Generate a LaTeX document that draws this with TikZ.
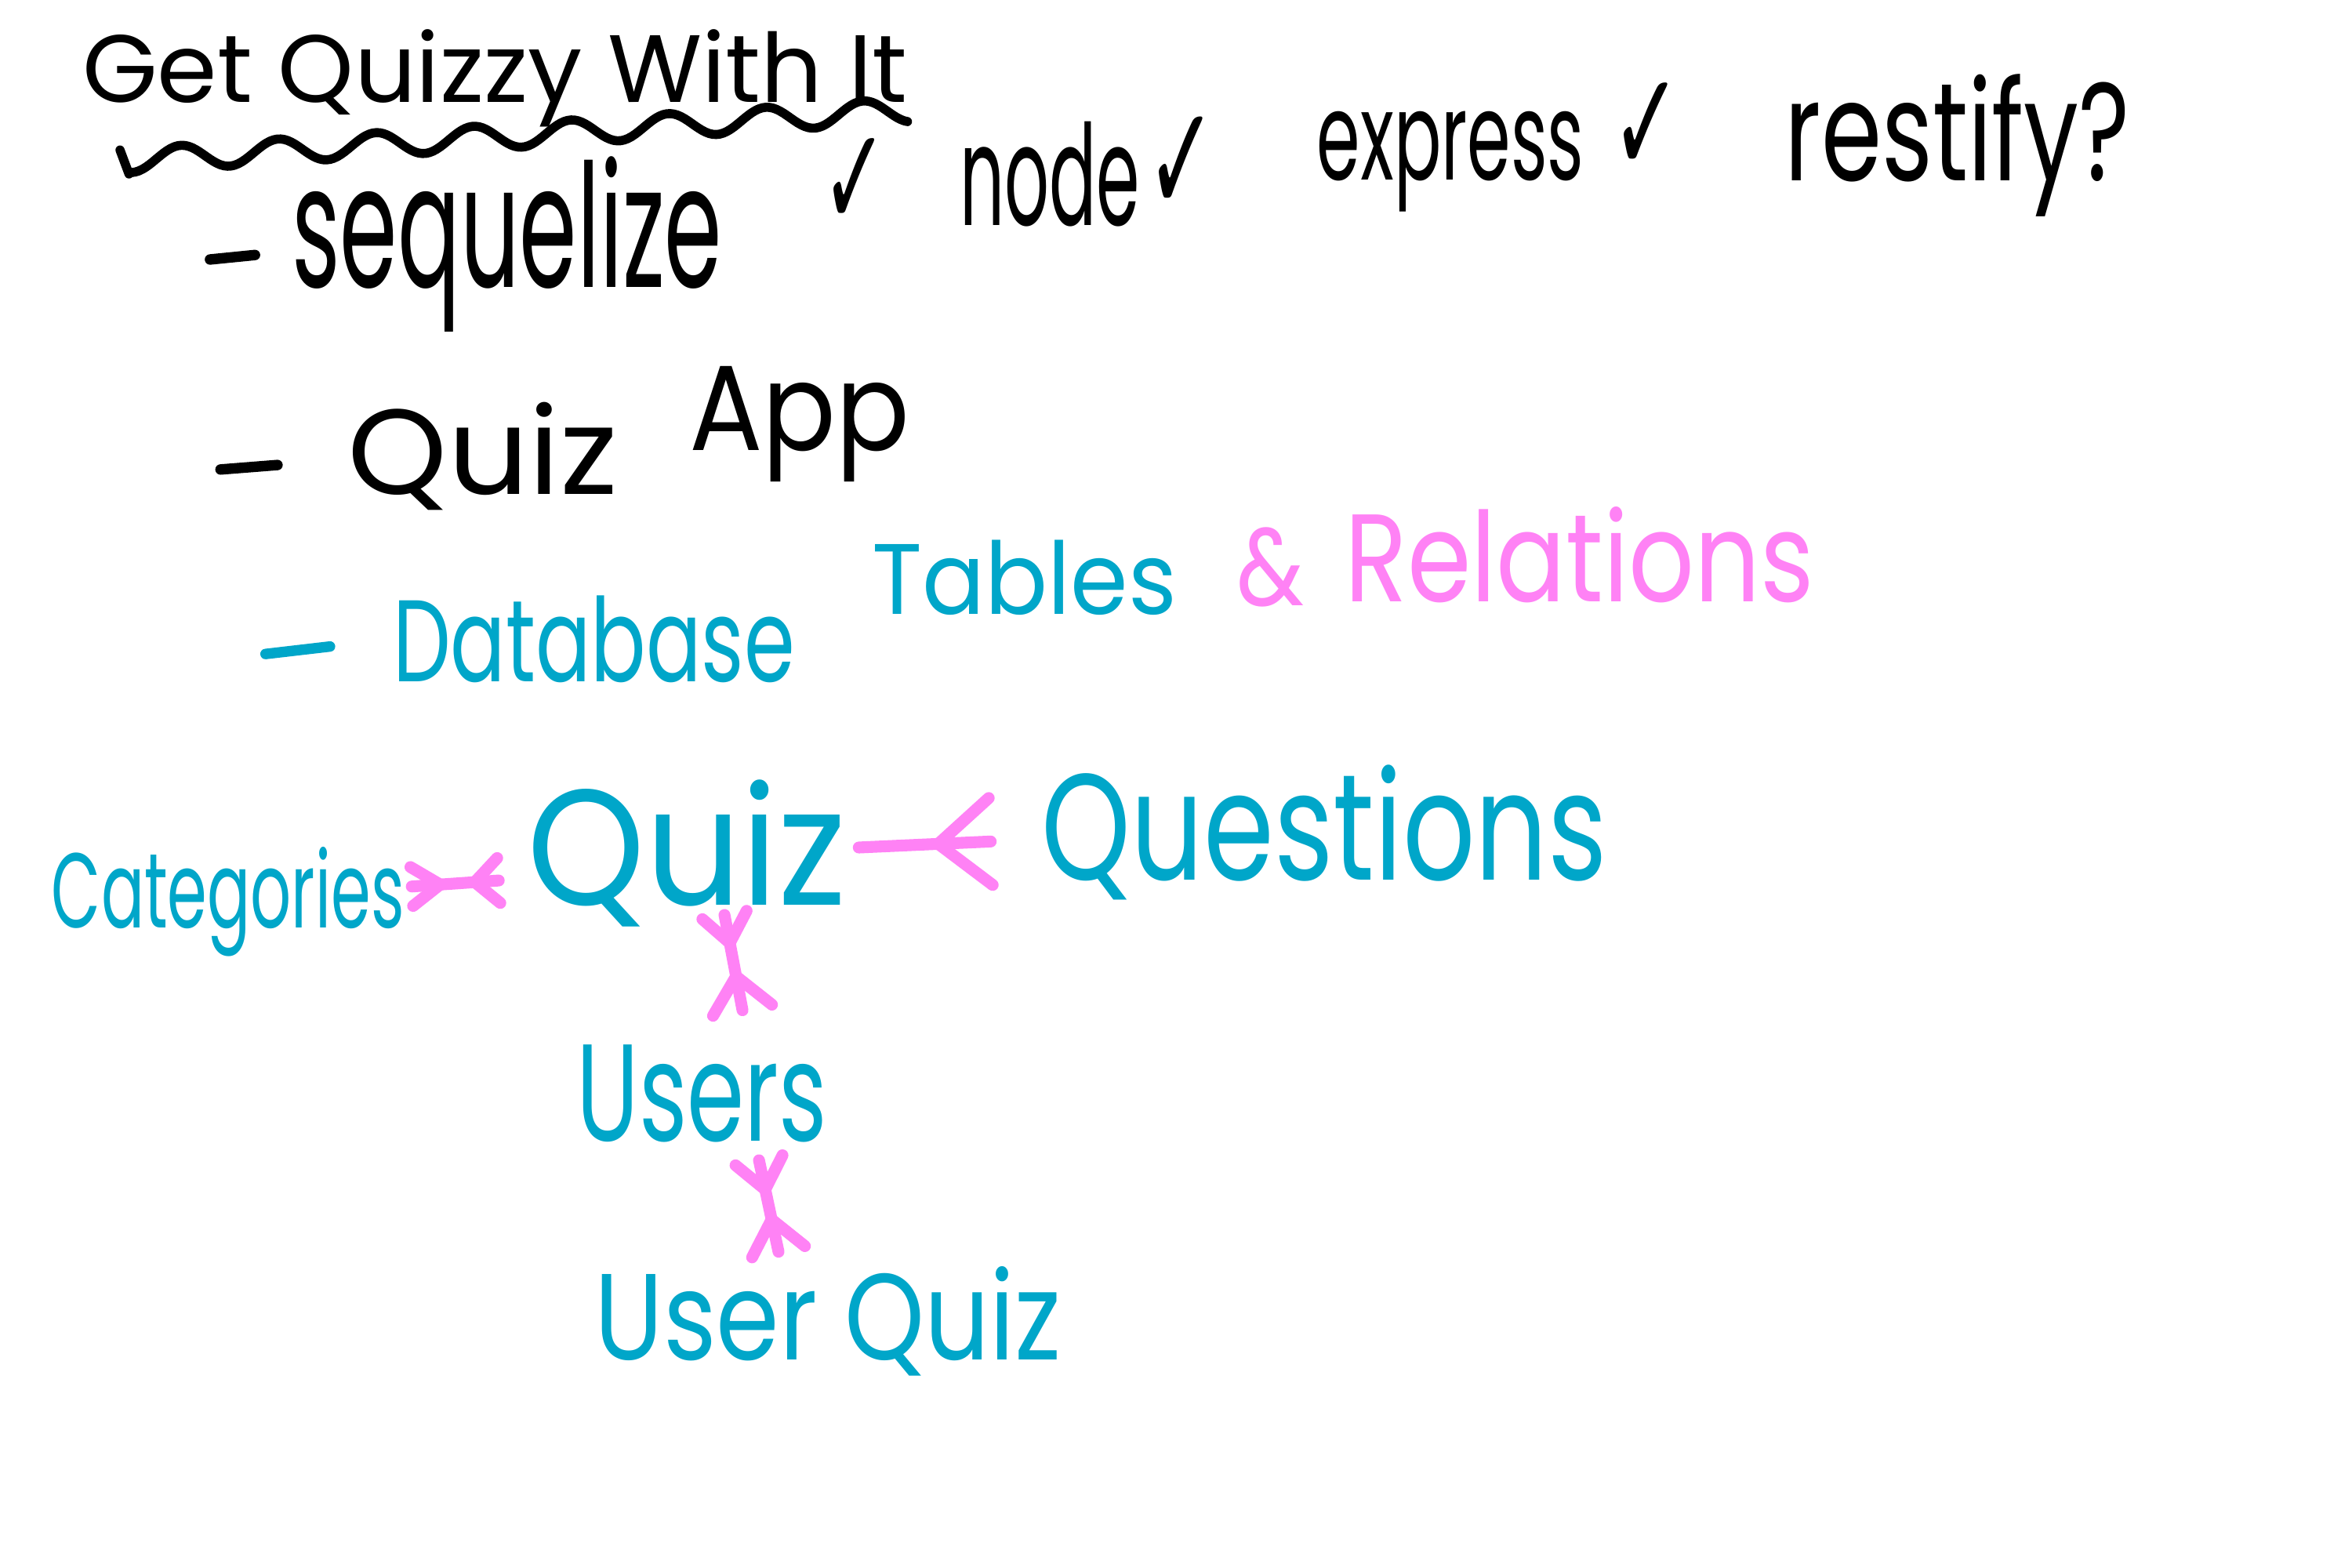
\documentclass[tikz,border=0pt]{standalone}
\usepackage{fontspec}
\setmainfont{Poppins}
\newfontfamily\checkfont{DejaVu Sans}
\usepackage{graphicx}
\usetikzlibrary{calc}
\newdimen\unitpx \unitpx=0.019133cm
\newcommand\fitbox[3]{\resizebox*{#1\unitpx}{#2\unitpx}{#3}}
\definecolor{qcyan}{RGB}{0,166,201}
\definecolor{qpink}{RGB}{255,130,245}
\begin{document}
\begin{tikzpicture}[x=0.019133cm,y=-0.019133cm,
  txt/.style={inner sep=0pt,outer sep=0pt},
  blk/.style={txt,text=black},
  cyn/.style={txt,text=qcyan},
  pnk/.style={txt,text=qpink},
  bullet/.style={line width=3.8pt,line cap=round},
  conn/.style={draw=qpink,line width=4.3pt,line cap=round,line join=round},
  pics/crowS/.style 2 args={code={\draw[conn] (#1,0) -- (0,#2) (#1,0) -- (0,-#2);}},
  pics/crowE/.style 2 args={code={\draw[conn] (-#1,0) -- (0,#2) (-#1,0) -- (0,-#2);}},
]
\useasboundingbox[fill=white] (0,0) rectangle (1568,1045);

% title
\node[blk] (title) at (330,52) {\fitbox{550}{65}{Get Quizzy With It}};
\draw[line width=3.3pt,line cap=round,line join=round]
  (80,100) -- (86,116)
  plot[domain=88:605,samples=220] (\x,{107-0.065*(\x-88)+8*cos((\x-88)/65*360)});

% first line
\draw[bullet] (140,173) -- (170,170);
\node[blk] (seq) at (338,163) {\fitbox{287}{117}{sequelize}};
\node[blk] (chk1) at (570,122) {\fitbox{44}{59}{\checkfont ✓}};
\node[blk] (node) at (700,116) {\fitbox{120}{70}{node}};
\node[blk] (chk2) at (788,110) {\fitbox{47}{64}{\checkfont ✓}};
\node[blk] (express) at (967,108) {\fitbox{178}{67}{express}};
\node[blk] (chk3) at (1098,85) {\fitbox{47}{60}{\checkfont ✓}};
\node[blk] (restify) at (1305,97) {\fitbox{230}{95}{restify?}};

% second line
\draw[bullet] (147,313) -- (185,310);
\node[blk] (quizb) at (322,304) {\fitbox{180}{72}{Quiz}};
\node[blk] (app) at (533,283) {\fitbox{147}{77}{App}};

% third line
\draw[bullet,draw=qcyan] (177,436) -- (220,431);
\node[cyn] (database) at (396,426) {\fitbox{268}{58}{Database}};
\node[cyn] (tables) at (683,385) {\fitbox{203}{50}{Tables}};
\node[pnk] (amp) at (847,378) {\fitbox{45}{53}{\&}};
\node[pnk] (relations) at (1053,370) {\fitbox{313}{64}{Relations}};

% diagram
\node[cyn] (cat) at (152,601) {\fitbox{235}{73}{Categories}};
\node[cyn] (quiz) at (458,569) {\fitbox{213}{98}{Quiz}};
\node[cyn] (questions) at (883,555) {\fitbox{377}{90}{Questions}};
\node[cyn] (users) at (468,729) {\fitbox{167}{65}{Users}};
\node[cyn] (userquiz) at (552,881) {\fitbox{311}{73}{User Quiz}};

\draw[conn] ($(cat.east)+(5,-10)$) -- ($(quiz.west)+(-19,18)$)
  pic[pos=0,sloped,allow upside down]{crowS={19}{13}}
  pic[pos=1,sloped,allow upside down]{crowE={16}{15}};
\draw[conn] ($(quiz.east)+(8,-4)$) -- ($(questions.west)+(-34,6)$)
  pic[pos=1,sloped,allow upside down]{crowE={35}{29}};
\draw[conn] ($(quiz.south)+(25,-8)$) -- ($(users.north)+(27,-23)$)
  pic[pos=0,sloped,allow upside down]{crowS={19}{15}}
  pic[pos=1,sloped,allow upside down]{crowE={23}{20}};
\draw[conn] ($(users.south)+(38,12)$) -- ($(userquiz.north)+(-33,-10)$)
  pic[pos=0,sloped,allow upside down]{crowS={20}{16}}
  pic[pos=1,sloped,allow upside down]{crowE={22}{18}};
\end{tikzpicture}
\end{document}
